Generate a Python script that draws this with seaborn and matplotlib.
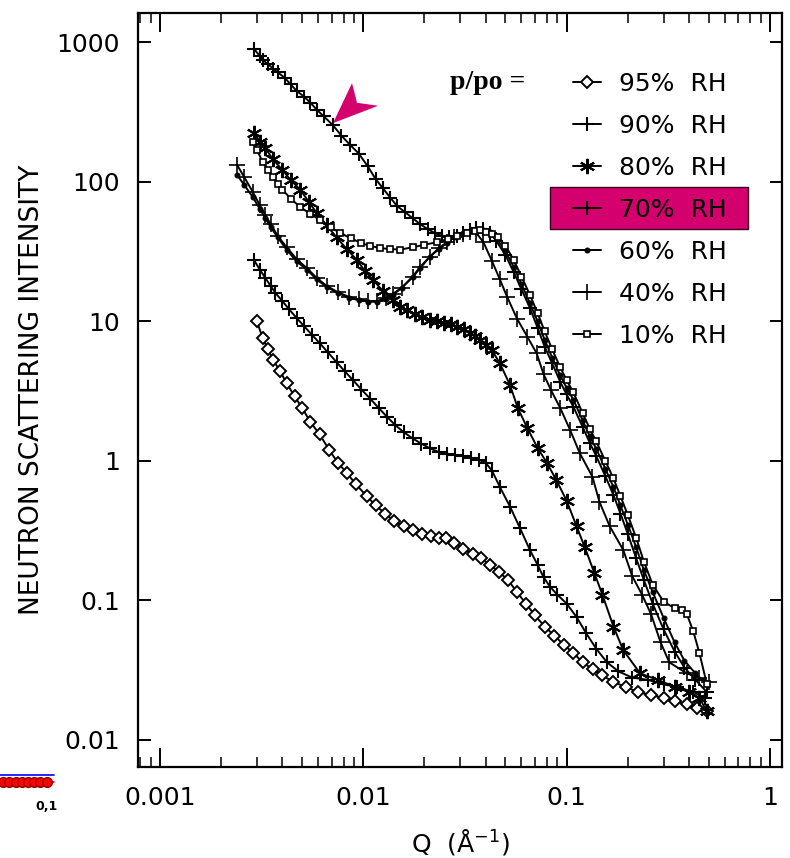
import numpy as np
import pandas as pd
import seaborn as sns
import matplotlib
import matplotlib.pyplot as plt
from matplotlib.lines import Line2D
from matplotlib.patches import Polygon, Rectangle
from matplotlib.ticker import FixedLocator, FixedFormatter, LogLocator, NullLocator, NullFormatter

matplotlib.use('Agg')
sns.set_style("ticks")
plt.rcParams['font.family'] = ['DejaVu Sans']
plt.rcParams['text.color'] = 'black'
plt.rcParams['axes.labelcolor'] = 'black'
plt.rcParams['xtick.color'] = 'black'
plt.rcParams['ytick.color'] = 'black'

# ------------------------------- data (Q in 1/A, intensity)

q95 = [0.0030, 0.0032, 0.0034, 0.0036, 0.0039, 0.0042, 0.0046, 0.0050, 0.0055, 0.0061,
       0.0068, 0.0075, 0.0083, 0.0092, 0.0104, 0.0115, 0.0128, 0.0142, 0.0158, 0.0176,
       0.0195, 0.0215, 0.0235, 0.0255, 0.0280, 0.0310, 0.0345, 0.0380, 0.0420, 0.0465,
       0.0515, 0.0570, 0.0630, 0.0700, 0.0780, 0.0870, 0.0970, 0.108, 0.120, 0.135,
       0.150, 0.170, 0.195, 0.225, 0.26, 0.30, 0.34, 0.39, 0.44, 0.49]
i95 = [10.0, 7.6, 6.3, 5.3, 4.4, 3.6, 2.9, 2.4, 1.9, 1.55,
       1.2, 0.97, 0.82, 0.68, 0.56, 0.48, 0.42, 0.37, 0.34, 0.32,
       0.30, 0.29, 0.28, 0.28, 0.26, 0.235, 0.215, 0.20, 0.18, 0.16,
       0.14, 0.115, 0.095, 0.078, 0.065, 0.056, 0.048, 0.042, 0.036, 0.032,
       0.029, 0.026, 0.024, 0.022, 0.021, 0.020, 0.019, 0.018, 0.017, 0.016]

q90 = [0.0029, 0.0031, 0.0033, 0.0035, 0.0037, 0.0040, 0.0043, 0.0047, 0.0051, 0.0056,
       0.0061, 0.0067, 0.0074, 0.0081, 0.0089, 0.0098, 0.0108, 0.0119, 0.0131, 0.0144,
       0.0159, 0.0175, 0.0193, 0.0213, 0.0235, 0.0258, 0.0283, 0.031, 0.034, 0.037,
       0.040, 0.043, 0.047, 0.0527, 0.059, 0.066, 0.072, 0.077, 0.083, 0.090,
       0.100, 0.112, 0.125, 0.140, 0.158, 0.18, 0.21, 0.25, 0.30, 0.35, 0.42, 0.48]
i90 = [27.6, 23.5, 20.5, 18.0, 16.0, 14.0, 12.3, 10.6, 9.3, 8.0,
       7.0, 6.0, 5.1, 4.4, 3.8, 3.25, 2.8, 2.4, 2.07, 1.8,
       1.6, 1.45, 1.33, 1.23, 1.16, 1.12, 1.10, 1.08, 1.05, 1.02,
       0.97, 0.85, 0.65, 0.47, 0.33, 0.23, 0.18, 0.147, 0.125, 0.11,
       0.095, 0.076, 0.058, 0.045, 0.036, 0.031, 0.028, 0.027, 0.025, 0.024, 0.022, 0.020]

q80 = [0.0029, 0.0031, 0.0033, 0.0036, 0.0040, 0.0044, 0.0049, 0.0054, 0.0059, 0.0066,
       0.0074, 0.0083, 0.0093, 0.0102, 0.0112, 0.0125, 0.0140, 0.0152, 0.0165, 0.018,
       0.0195, 0.0212, 0.023, 0.025, 0.027, 0.029, 0.0312, 0.0335, 0.0355, 0.0375,
       0.040, 0.043, 0.047, 0.0527, 0.0575, 0.064, 0.072, 0.080, 0.089, 0.100,
       0.112, 0.123, 0.137, 0.150, 0.170, 0.190, 0.230, 0.280, 0.340, 0.400, 0.450, 0.490]
i80 = [224, 195, 175, 145, 122, 103, 88, 72, 60, 49,
       40, 33, 27.6, 23, 19.8, 16.5, 14.3, 12.7, 12.0, 11.3,
       10.8, 10.3, 10.0, 9.8, 9.6, 9.2, 8.8, 8.3, 7.9, 7.4,
       6.8, 6.2, 5.0, 3.5, 2.4, 1.73, 1.24, 0.97, 0.73, 0.52,
       0.34, 0.24, 0.157, 0.11, 0.065, 0.044, 0.030, 0.027, 0.024, 0.022, 0.020, 0.016]

q70 = [0.0029, 0.0031, 0.0032, 0.0034, 0.0036, 0.0038, 0.0041, 0.0044, 0.0047, 0.0051,
       0.0055, 0.0059, 0.0064, 0.0071, 0.0078, 0.0086, 0.0095, 0.0105, 0.0115, 0.0125,
       0.0136, 0.0147, 0.016, 0.0175, 0.019, 0.0207, 0.0225, 0.0245, 0.0265, 0.0289,
       0.031, 0.0335, 0.036, 0.039, 0.042, 0.045, 0.050, 0.055, 0.060, 0.066,
       0.072, 0.078, 0.085, 0.093, 0.100, 0.108, 0.120, 0.130, 0.140, 0.155,
       0.170, 0.184, 0.200, 0.220, 0.240, 0.265, 0.300, 0.340, 0.380, 0.430, 0.490]
i70 = [900, 800, 750, 700, 650, 610, 560, 500, 450, 410,
       370, 330, 295, 255, 215, 185, 160, 130, 105, 90,
       77, 67, 61, 55, 50, 46, 43, 41, 40.5, 41,
       43, 45.5, 47, 46, 43, 38, 30, 22.5, 17, 12.5,
       9.0, 6.6, 5.0, 3.7, 3.0, 2.45, 1.75, 1.35, 1.08, 0.78,
       0.57, 0.42, 0.30, 0.20, 0.14, 0.095, 0.062, 0.043, 0.033, 0.027, 0.022]

q60 = [0.0024, 0.0026, 0.00286, 0.0031, 0.0033, 0.0035, 0.0038, 0.0042, 0.0047, 0.0053,
       0.0059, 0.0066, 0.0075, 0.0085, 0.0095, 0.0105, 0.0117, 0.013, 0.014, 0.0155,
       0.0175, 0.019, 0.0212, 0.0235, 0.0258, 0.028, 0.0309, 0.0335, 0.036, 0.039,
       0.042, 0.045, 0.050, 0.055, 0.060, 0.066, 0.072, 0.078, 0.085, 0.093,
       0.100, 0.108, 0.120, 0.130, 0.140, 0.155, 0.170, 0.184, 0.200, 0.220,
       0.240, 0.265, 0.300, 0.340, 0.380, 0.430, 0.490]
i60 = [112, 95, 78, 64, 55, 47.5, 40, 32.6, 27, 23.4,
       20, 17.7, 16, 14.8, 14.2, 13.9, 13.8, 14.5, 15.5, 17.5,
       20.8, 24, 29, 33, 36.6, 40, 43, 44.5, 45, 45,
       43.5, 40, 32, 24.5, 18.5, 13.5, 10, 7.4, 5.5, 4.1,
       3.35, 2.75, 1.95, 1.5, 1.22, 0.88, 0.65, 0.48, 0.35, 0.24,
       0.165, 0.115, 0.075, 0.050, 0.037, 0.030, 0.025]

q40 = [0.0024, 0.0026, 0.00286, 0.0031, 0.0033, 0.0035, 0.0038, 0.0042, 0.0047, 0.0053,
       0.0059, 0.0066, 0.0075, 0.0085, 0.0095, 0.0105, 0.0117, 0.013, 0.014, 0.0155,
       0.0175, 0.019, 0.0212, 0.0235, 0.0258, 0.028, 0.0309, 0.0335, 0.036, 0.039,
       0.043, 0.047, 0.051, 0.057, 0.064, 0.0713, 0.077, 0.084, 0.093, 0.104,
       0.116, 0.134, 0.145, 0.163, 0.19, 0.21, 0.235, 0.26, 0.29, 0.32, 0.39, 0.45, 0.50]
i40 = [132, 108, 85, 68, 58, 50, 41, 34, 28, 24,
       20.5, 18, 16.2, 15, 14.4, 14, 14, 14.8, 15.8, 17.5,
       21, 24.5, 29, 33.5, 37, 40, 42.5, 44, 43, 37,
       27, 20, 15, 10.5, 7.8, 5.9, 4.2, 3.2, 2.4, 1.67,
       1.14, 0.77, 0.51, 0.34, 0.23, 0.15, 0.11, 0.08, 0.05, 0.036, 0.030, 0.028, 0.026]

q10 = [0.00286, 0.0030, 0.0032, 0.0034, 0.0036, 0.0038, 0.0040, 0.0044, 0.0049, 0.0055,
       0.0061, 0.0069, 0.0077, 0.0087, 0.0097, 0.0108, 0.0121, 0.0136, 0.0152, 0.0175,
       0.020, 0.023, 0.026, 0.029, 0.0325, 0.0355, 0.0375, 0.040, 0.043, 0.046,
       0.050, 0.055, 0.060, 0.066, 0.072, 0.078, 0.085, 0.093, 0.100, 0.108,
       0.120, 0.130, 0.140, 0.155, 0.170, 0.184, 0.200, 0.220, 0.240, 0.265,
       0.300, 0.340, 0.370, 0.390, 0.420, 0.450, 0.490]
i10 = [194, 170, 139, 122, 108, 97, 88, 76, 66, 59,
       53.5, 47.5, 43, 39.5, 36.6, 34.8, 33.6, 33, 32.8, 34,
       35.5, 37, 39, 41, 43, 44.5, 45, 44, 42.5, 40,
       35, 27.5, 21, 15.5, 11.5, 8.5, 6.3, 4.7, 3.8, 3.1,
       2.2, 1.7, 1.38, 1.0, 0.75, 0.56, 0.41, 0.28, 0.19, 0.13,
       0.098, 0.088, 0.085, 0.080, 0.060, 0.042, 0.025]

series_labels = ['95%  RH', '90%  RH', '80%  RH', '70%  RH', '60%  RH', '40%  RH', '10%  RH']
series_q = [q95, q90, q80, q70, q60, q40, q10]
series_i = [i95, i90, i80, i70, i60, i40, i10]

xtick_vals = [0.001, 0.01, 0.1, 1]
xtick_labels = ['0.001', '0.01', '0.1', '1']
ytick_vals = [0.01, 0.1, 1, 10, 100, 1000]
ytick_labels = ['0.01', '0.1', '1', '10', '100', '1000']

# stray fragment of a neighbouring figure in the bottom-left corner
frag_x = [1, 2, 3, 4, 5, 6, 7, 8]
frag_y = [1, 1, 1, 1, 1, 1, 1, 1]

# ------------------------------- marker styles per series
styles = [
    dict(marker='D', markersize=6.5, markerfacecolor='white', markeredgewidth=1.4),
    dict(marker='+', markersize=10, markerfacecolor='black', markeredgewidth=1.5),
    dict(marker=(6, 2, 0), markersize=11, markerfacecolor='black', markeredgewidth=1.5),
    dict(marker='+', markersize=10, markerfacecolor='black', markeredgewidth=1.5),
    dict(marker='o', markersize=3.4, markerfacecolor='black', markeredgewidth=0.9),
    dict(marker='+', markersize=12, markerfacecolor='black', markeredgewidth=1.2),
    dict(marker='s', markersize=4.0, markerfacecolor='white', markeredgewidth=1.2),
]

magenta = '#d4006e'

fig = plt.figure(figsize=(7.9, 8.58), dpi=100)
ax = fig.add_axes([0.1747, 0.1061, 0.8152, 0.8787])
ax.set_xscale('log')
ax.set_yscale('log')

for q, inten, st in zip(series_q, series_i, styles):
    df = pd.DataFrame({'Q': q, 'I': inten})
    sns.lineplot(data=df, x='Q', y='I', ax=ax, color='black', lw=1.4,
                 markeredgecolor='black', estimator=None, sort=False, legend=False, **st)

ax.set_xlim(0.00078, 1.147)
ax.set_ylim(0.0064, 1626)

# ticks
ax.xaxis.set_major_locator(FixedLocator(xtick_vals))
ax.xaxis.set_major_formatter(FixedFormatter(xtick_labels))
ax.xaxis.set_minor_locator(LogLocator(base=10, subs=np.arange(2, 10)))
ax.xaxis.set_minor_formatter(NullFormatter())
ax.yaxis.set_major_locator(FixedLocator(ytick_vals))
ax.yaxis.set_major_formatter(FixedFormatter(ytick_labels))
ax.yaxis.set_minor_locator(NullLocator())
ax.tick_params(axis='both', which='both', direction='in', top=True, right=True, color='black')
ax.tick_params(axis='x', which='major', length=14, width=1.4, pad=14, labelsize=18)
ax.tick_params(axis='x', which='minor', length=7, width=1.1)
ax.tick_params(axis='y', which='major', length=9, width=1.4, pad=13, labelsize=18)
for sp in ax.spines.values():
    sp.set_linewidth(1.6)
    sp.set_color('black')

ax.set_xlabel('Q  (Å$^{-1}$)', fontsize=18, labelpad=12)
ax.set_ylabel('NEUTRON SCATTERING INTENSITY', fontsize=19, labelpad=8)

# legend
handles = [Line2D([], [], color='black', lw=1.4, markeredgecolor='black', **st) for st in styles]
ax.legend(handles, series_labels, loc='upper left', bbox_to_anchor=(0.675, 0.922),
          frameon=False, fontsize=18, handlelength=1.15, handletextpad=0.7,
          labelspacing=0.72, borderpad=0, borderaxespad=0)
ax.add_patch(Rectangle((0.6398, 0.7135), 0.3075, 0.0557, transform=ax.transAxes,
                       facecolor=magenta, edgecolor='#3a0020', lw=1.0, zorder=4))
ax.text(0.4845, 0.908, 'p/po =', transform=ax.transAxes, fontsize=20, va='center', ha='left',
        family=['Liberation Serif', 'DejaVu Serif'], weight='bold')

# magenta arrowhead pointing at the 70% curve
arrow = Polygon([(0.3028, 0.854), (0.3323, 0.907), (0.340, 0.881), (0.3727, 0.877)],
                closed=True, transform=ax.transAxes, facecolor=magenta, edgecolor='none', zorder=6)
ax.add_patch(arrow)

# fragment in the corner
ax2 = fig.add_axes([0.0, (858 - 792) / 858, 56 / 790, 22 / 858])
ax2.plot([0.5, 9.2], [1.35, 1.35], color='blue', lw=1.2)
ax2.plot([0.5, 9.2], [1.0, 1.0], color='red', lw=1.2)
ax2.plot(frag_x, frag_y, 'o', color='red', markeredgecolor='#900000', markersize=7)
ax2.set_xlim(0.5, 9.5)
ax2.set_ylim(0.5, 1.6)
ax2.axis('off')
fig.text(47 / 790, 1 - 806 / 858, '0,1', fontsize=9, weight='bold', ha='center', va='center')

fig.savefig('out.png', dpi=100)
